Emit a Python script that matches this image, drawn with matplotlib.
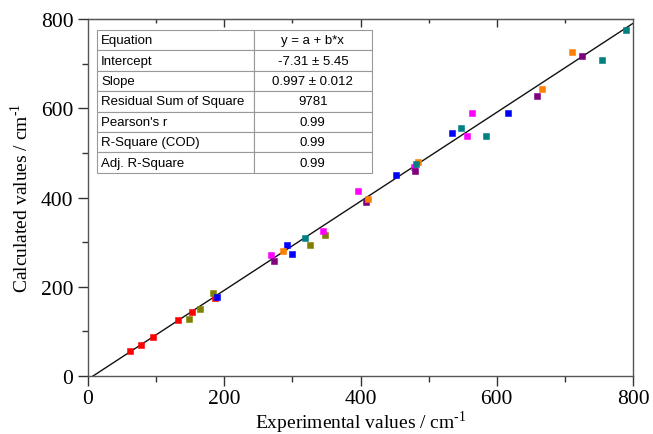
import matplotlib
matplotlib.use('Agg')
from matplotlib import pyplot as plt
import numpy as np

# data, grouped by marker colour
red_x = [61.7, 77.3, 95.2, 132.8, 151.9, 186.7]
red_y = [56.0, 69.8, 88.1, 126.2, 144.2, 175.6]
olive_x = [147.5, 164.7, 183.5, 326.3, 348.0]
olive_y = [127.7, 150.5, 186.8, 294.0, 316.0]
blue_x = [189.8, 292.1, 299.9, 452.1, 534.9, 616.8]
blue_y = [178.0, 294.3, 272.6, 450.4, 544.8, 590.2]
magenta_x = [268.2, 345.4, 397.0, 479.0, 555.8, 563.1]
magenta_y = [271.2, 325.6, 414.0, 468.0, 538.5, 588.6]
purple_x = [273.0, 408.0, 480.0, 659.0, 725.6]
purple_y = [257.0, 391.0, 460.0, 627.5, 717.1]
orange_x = [285.8, 411.0, 483.8, 666.9, 710.5]
orange_y = [280.0, 396.0, 478.8, 643.1, 726.8]
teal_x = [319.2, 481.0, 547.5, 584.2, 755.0, 790.2]
teal_y = [309.6, 475.0, 554.9, 537.0, 707.4, 775.3]

intercept = -7.31
slope = 0.997

table_rows = ["Equation", "Intercept", "Slope", "Residual Sum of Square",
              "Pearson's r", "R-Square (COD)", "Adj. R-Square"]
table_vals = ["y = a + b*x", "-7.31 \u00b1 5.45", "0.997 \u00b1 0.012", "9781",
              "0.99", "0.99", "0.99"]

plt.rcParams['font.family'] = ['Liberation Serif', 'DejaVu Serif']
plt.rcParams['mathtext.fontset'] = 'custom'
plt.rcParams['mathtext.rm'] = 'Liberation Serif'

fig = plt.figure(figsize=(6.53, 4.35), dpi=100)
ax = fig.add_axes([0.1348, 0.1333, 0.8346, 0.8207])

xl = np.linspace(0, 800, 2)
ax.plot(xl, intercept + slope * xl, color='#111111', lw=1.0, zorder=2)

series = [
    (red_x, red_y, '#ff0000'),
    (olive_x, olive_y, '#808000'),
    (blue_x, blue_y, '#0000ff'),
    (magenta_x, magenta_y, '#ff00ff'),
    (purple_x, purple_y, '#800080'),
    (orange_x, orange_y, '#ff8000'),
    (teal_x, teal_y, '#008080'),
]
for xs, ys, c in series:
    ax.plot(xs, ys, 's', color=c, ms=5.0, mec=c, mew=0.4, zorder=3)

ax.set_xlim(0, 800)
ax.set_ylim(0, 800)
ax.set_xticks([0, 200, 400, 600, 800])
ax.set_yticks([0, 200, 400, 600, 800])
ax.set_xticks([100, 300, 500, 700], minor=True)
ax.set_yticks([100, 300, 500, 700], minor=True)
ax.tick_params(which='major', direction='out', length=7, width=1.0,
               labelsize=15.5, color='#333333', top=False, right=False)
ax.tick_params(which='minor', direction='out', length=4, width=1.0,
               color='#333333', top=False, right=False)
ax.tick_params(axis='x', which='major', pad=2.5)
for s in ax.spines.values():
    s.set_color('#555555')
    s.set_linewidth(1.0)

top = ax.secondary_xaxis('top')
top.set_xticks([200, 400, 600])
top.set_xticks([100, 300, 500, 700], minor=True)
top.tick_params(which='major', direction='in', length=6, width=1.0,
                labeltop=False, color='#333333')
top.tick_params(which='minor', direction='in', length=3, width=1.0, color='#333333')
top.set_xticklabels([])
top.spines['top'].set_color('#555555')

ax.set_xlabel('Experimental values / cm$^{\\mathregular{\u20101}}$', fontsize=14, labelpad=0)
ax.set_ylabel('Calculated values / cm$^{\\mathregular{\u20101}}$', fontsize=14, labelpad=6)

cells = [[r, v] for r, v in zip(table_rows, table_vals)]
tb = ax.table(cellText=cells, bbox=[0.0165, 0.569, 0.5045, 0.4], zorder=4,
              colWidths=[0.57, 0.43])
tb.auto_set_font_size(False)
for (i, j), cell in tb.get_celld().items():
    cell.set_edgecolor('#999999')
    cell.set_linewidth(0.8)
    cell.set_facecolor('white')
    t = cell.get_text()
    t.set_fontsize(9.5)
    t.set_fontfamily(['Liberation Sans', 'DejaVu Sans'])
    if j == 0:
        t.set_ha('left')
        cell.PAD = 0.025
    else:
        t.set_ha('center')

fig.savefig('out.png', dpi=100)
